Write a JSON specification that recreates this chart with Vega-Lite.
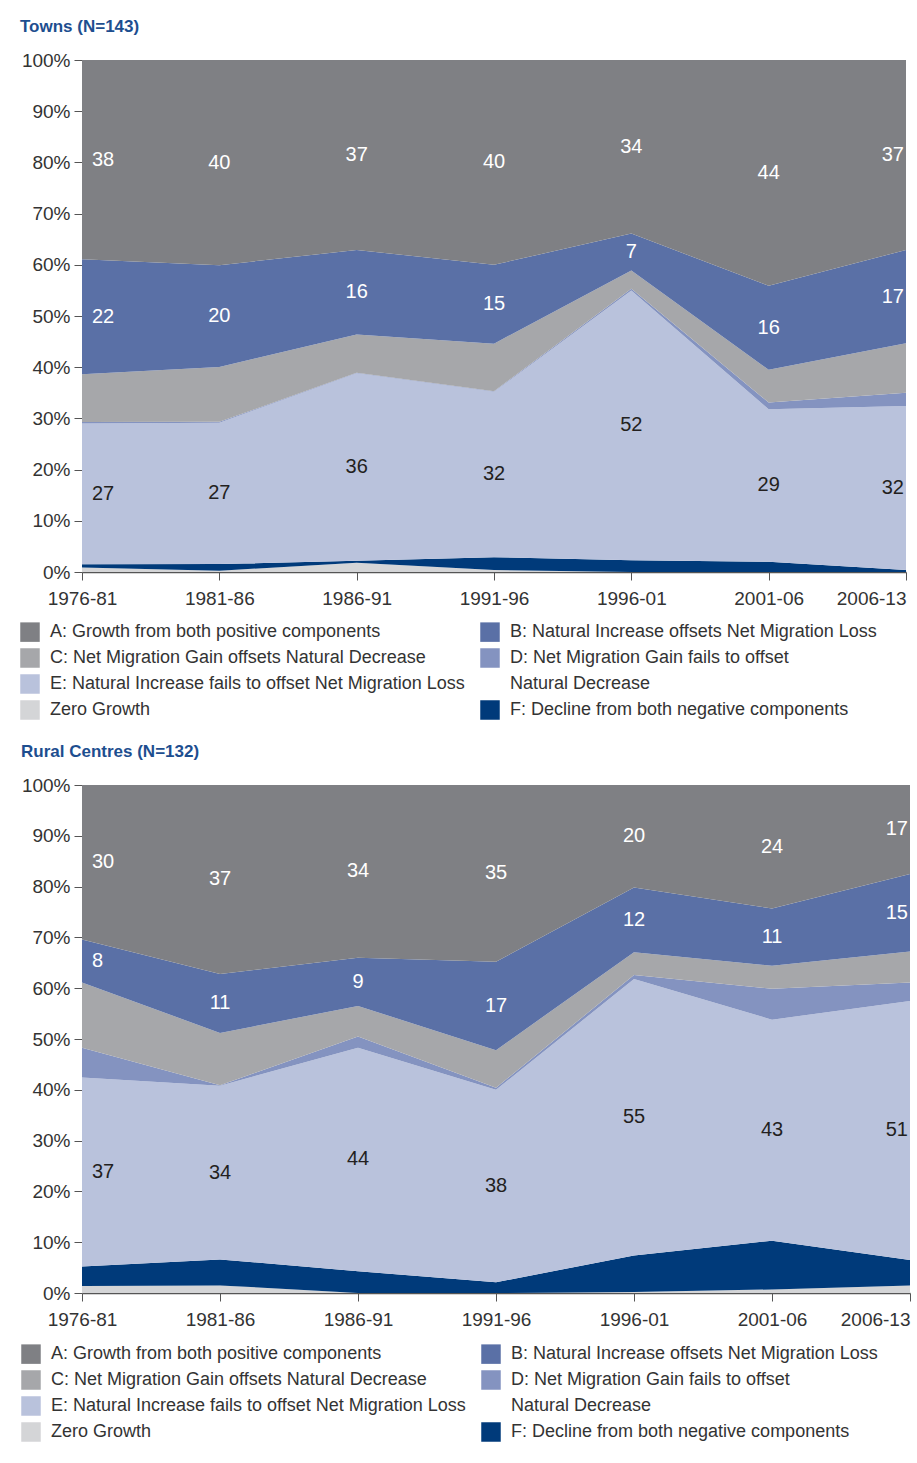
{
  "$schema": "https://vega.github.io/schema/vega-lite/v6.json",
  "background": "white",
  "padding": {"left": 20, "top": 18, "right": 4, "bottom": 4},
  "datasets": {
    "towns": [
      {"period": "1976-81", "class": "Z", "value": 0.9, "label": null},
      {"period": "1976-81", "class": "F", "value": 0.6, "label": null},
      {"period": "1976-81", "class": "E", "value": 27.5, "label": 27},
      {"period": "1976-81", "class": "D", "value": 0.3, "label": null},
      {"period": "1976-81", "class": "C", "value": 9.3, "label": null},
      {"period": "1976-81", "class": "B", "value": 22.5, "label": 22},
      {"period": "1976-81", "class": "A", "value": 38.9, "label": 38},
      {"period": "1981-86", "class": "Z", "value": 0.25, "label": null},
      {"period": "1981-86", "class": "F", "value": 1.3, "label": null},
      {"period": "1981-86", "class": "E", "value": 27.6, "label": 27},
      {"period": "1981-86", "class": "D", "value": 0.2, "label": null},
      {"period": "1981-86", "class": "C", "value": 10.7, "label": null},
      {"period": "1981-86", "class": "B", "value": 19.9, "label": 20},
      {"period": "1981-86", "class": "A", "value": 40.1, "label": 40},
      {"period": "1986-91", "class": "Z", "value": 1.8, "label": null},
      {"period": "1986-91", "class": "F", "value": 0.4, "label": null},
      {"period": "1986-91", "class": "E", "value": 36.6, "label": 36},
      {"period": "1986-91", "class": "D", "value": 0.1, "label": null},
      {"period": "1986-91", "class": "C", "value": 7.5, "label": null},
      {"period": "1986-91", "class": "B", "value": 16.5, "label": 16},
      {"period": "1986-91", "class": "A", "value": 37.1, "label": 37},
      {"period": "1991-96", "class": "Z", "value": 0.4, "label": null},
      {"period": "1991-96", "class": "F", "value": 2.5, "label": null},
      {"period": "1991-96", "class": "E", "value": 32.3, "label": 32},
      {"period": "1991-96", "class": "D", "value": 0.1, "label": null},
      {"period": "1991-96", "class": "C", "value": 9.3, "label": null},
      {"period": "1991-96", "class": "B", "value": 15.4, "label": 15},
      {"period": "1991-96", "class": "A", "value": 40.0, "label": 40},
      {"period": "1996-01", "class": "Z", "value": 0, "label": null},
      {"period": "1996-01", "class": "F", "value": 2.3, "label": null},
      {"period": "1996-01", "class": "E", "value": 52.7, "label": 52},
      {"period": "1996-01", "class": "D", "value": 0.3, "label": null},
      {"period": "1996-01", "class": "C", "value": 3.6, "label": null},
      {"period": "1996-01", "class": "B", "value": 7.2, "label": 7},
      {"period": "1996-01", "class": "A", "value": 33.9, "label": 34},
      {"period": "2001-06", "class": "Z", "value": 0, "label": null},
      {"period": "2001-06", "class": "F", "value": 2.0, "label": null},
      {"period": "2001-06", "class": "E", "value": 29.8, "label": 29},
      {"period": "2001-06", "class": "D", "value": 1.3, "label": null},
      {"period": "2001-06", "class": "C", "value": 6.4, "label": null},
      {"period": "2001-06", "class": "B", "value": 16.4, "label": 16},
      {"period": "2001-06", "class": "A", "value": 44.1, "label": 44},
      {"period": "2006-13", "class": "Z", "value": 0, "label": null},
      {"period": "2006-13", "class": "F", "value": 0.4, "label": null},
      {"period": "2006-13", "class": "E", "value": 32.0, "label": 32},
      {"period": "2006-13", "class": "D", "value": 2.6, "label": null},
      {"period": "2006-13", "class": "C", "value": 9.7, "label": null},
      {"period": "2006-13", "class": "B", "value": 18.2, "label": 17},
      {"period": "2006-13", "class": "A", "value": 37.1, "label": 37}
    ],
    "rural": [
      {"period": "1976-81", "class": "Z", "value": 1.4, "label": null},
      {"period": "1976-81", "class": "F", "value": 3.8, "label": null},
      {"period": "1976-81", "class": "E", "value": 37.2, "label": 37},
      {"period": "1976-81", "class": "D", "value": 5.9, "label": null},
      {"period": "1976-81", "class": "C", "value": 12.8, "label": null},
      {"period": "1976-81", "class": "B", "value": 8.5, "label": 8},
      {"period": "1976-81", "class": "A", "value": 30.4, "label": 30},
      {"period": "1981-86", "class": "Z", "value": 1.5, "label": null},
      {"period": "1981-86", "class": "F", "value": 5.1, "label": null},
      {"period": "1981-86", "class": "E", "value": 34.2, "label": 34},
      {"period": "1981-86", "class": "D", "value": 0.1, "label": null},
      {"period": "1981-86", "class": "C", "value": 10.3, "label": null},
      {"period": "1981-86", "class": "B", "value": 11.6, "label": 11},
      {"period": "1981-86", "class": "A", "value": 37.2, "label": 37},
      {"period": "1986-91", "class": "Z", "value": 0, "label": null},
      {"period": "1986-91", "class": "F", "value": 4.3, "label": null},
      {"period": "1986-91", "class": "E", "value": 44.0, "label": 44},
      {"period": "1986-91", "class": "D", "value": 2.2, "label": null},
      {"period": "1986-91", "class": "C", "value": 6.0, "label": null},
      {"period": "1986-91", "class": "B", "value": 9.5, "label": 9},
      {"period": "1986-91", "class": "A", "value": 34.0, "label": 34},
      {"period": "1991-96", "class": "Z", "value": 0, "label": null},
      {"period": "1991-96", "class": "F", "value": 2.1, "label": null},
      {"period": "1991-96", "class": "E", "value": 37.9, "label": 38},
      {"period": "1991-96", "class": "D", "value": 0.4, "label": null},
      {"period": "1991-96", "class": "C", "value": 7.4, "label": null},
      {"period": "1991-96", "class": "B", "value": 17.4, "label": 17},
      {"period": "1991-96", "class": "A", "value": 34.8, "label": 35},
      {"period": "1996-01", "class": "Z", "value": 0.2, "label": null},
      {"period": "1996-01", "class": "F", "value": 7.2, "label": null},
      {"period": "1996-01", "class": "E", "value": 54.4, "label": 55},
      {"period": "1996-01", "class": "D", "value": 0.8, "label": null},
      {"period": "1996-01", "class": "C", "value": 4.5, "label": null},
      {"period": "1996-01", "class": "B", "value": 12.7, "label": 12},
      {"period": "1996-01", "class": "A", "value": 20.2, "label": 20},
      {"period": "2001-06", "class": "Z", "value": 0.7, "label": null},
      {"period": "2001-06", "class": "F", "value": 9.6, "label": null},
      {"period": "2001-06", "class": "E", "value": 43.5, "label": 43},
      {"period": "2001-06", "class": "D", "value": 6.1, "label": null},
      {"period": "2001-06", "class": "C", "value": 4.5, "label": null},
      {"period": "2001-06", "class": "B", "value": 11.3, "label": 11},
      {"period": "2001-06", "class": "A", "value": 24.3, "label": 24},
      {"period": "2006-13", "class": "Z", "value": 1.5, "label": null},
      {"period": "2006-13", "class": "F", "value": 5.0, "label": null},
      {"period": "2006-13", "class": "E", "value": 51.0, "label": 51},
      {"period": "2006-13", "class": "D", "value": 3.6, "label": null},
      {"period": "2006-13", "class": "C", "value": 6.1, "label": null},
      {"period": "2006-13", "class": "B", "value": 15.3, "label": 15},
      {"period": "2006-13", "class": "A", "value": 17.5, "label": 17}
    ]
  },
  "config": {
    "font": "Liberation Sans",
    "view": {"stroke": null},
    "axis": {"labelFont": "Liberation Sans", "labelFontSize": 19, "labelColor": "#333333", "tickColor": "#555555", "domainColor": "#555555", "tickSize": 8, "grid": false, "title": null},
    "legend": {"labelFont": "Liberation Sans", "labelFontSize": 18, "labelColor": "#333333", "padding": 0}
  },
  "resolve": {"scale": {"color": "independent"}, "legend": {"color": "independent"}},
  "spacing": 23,
  "vconcat": [
    {
      "title": {"text": "Towns (N=143)", "anchor": "start", "frame": "bounds", "fontSize": 17, "font": "Liberation Sans", "fontWeight": "bold", "color": "#1D4E8F", "offset": 15},
      "width": 824,
      "height": 512,
      "data": {"name": "towns"},
      "transform": [
        {"stack": "value", "groupby": ["period"], "sort": [{"field": "class", "order": "descending"}], "offset": "normalize", "as": ["v0", "v1"]}
      ],
      "layer": [
        {
          "mark": {"type": "area", "opacity": 1},
          "encoding": {
            "x": {"field": "period", "type": "ordinal", "sort": ["1976-81", "1981-86", "1986-91", "1991-96", "1996-01", "2001-06", "2006-13"], "scale": {"type": "point", "padding": 0},
              "axis": {"labelAngle": 0, "labelPadding": 9, "domainWidth": 1.5, "labelAlign": {"condition": {"test": "datum.value === '2006-13'", "value": "right"}, "value": "center"}}},
            "y": {"field": "v0", "type": "quantitative", "scale": {"domain": [0, 1], "nice": false},
              "axis": {"domain": false, "values": [0, 0.1, 0.2, 0.3, 0.4, 0.5, 0.6, 0.7, 0.8, 0.9, 1], "format": ".0%", "labelPadding": 4}},
            "y2": {"field": "v1"},
            "color": {"field": "class", "type": "nominal",
              "scale": {"domain": ["A", "C", "E", "Z", "B", "D", "N", "F"], "range": ["#7f8084", "#a6a7aa", "#b9c2dc", "#d4d5d7", "#5a70a6", "#8493c0", "transparent", "#003a7a"]},
              "legend": {"orient": "none", "legendX": -62, "legendY": 562, "columns": 2, "columnPadding": 15, "rowPadding": 6, "title": null, "symbolType": "square", "symbolSize": 380, "symbolStrokeWidth": 0, "labelOffset": 10, "labelLimit": 500,
                "labelExpr": "datum.value === 'A' ? 'A: Growth from both positive components' : datum.value === 'B' ? 'B: Natural Increase offsets Net Migration Loss' : datum.value === 'C' ? 'C: Net Migration Gain offsets Natural Decrease' : datum.value === 'D' ? 'D: Net Migration Gain fails to offset' : datum.value === 'E' ? 'E: Natural Increase fails to offset Net Migration Loss' : datum.value === 'N' ? 'Natural Decrease' : datum.value === 'Z' ? 'Zero Growth' : 'F: Decline from both negative components'"}}
          }
        },
        {
          "transform": [{"filter": "datum.label != null"}, {"fold": ["v0", "v1"], "as": ["edge", "pos"]}],
          "mark": {"type": "text", "fontSize": 20, "font": "Liberation Sans", "baseline": "middle",
            "align": {"expr": "datum.period === '1976-81' ? 'left' : datum.period === '2006-13' ? 'right' : 'center'"},
            "dx": {"expr": "datum.period === '1976-81' ? 10 : datum.period === '2006-13' ? -2 : 0"}},
          "encoding": {
            "x": {"field": "period", "type": "ordinal", "sort": ["1976-81", "1981-86", "1986-91", "1991-96", "1996-01", "2001-06", "2006-13"]},
            "y": {"aggregate": "mean", "field": "pos", "type": "quantitative"},
            "detail": {"field": "class", "type": "nominal"},
            "text": {"field": "label", "type": "quantitative"},
            "color": {"condition": {"test": "datum.class === 'E'", "value": "#231f20"}, "value": "white"}
          }
        }
      ]
    },
    {
      "title": {"text": "Rural Centres (N=132)", "anchor": "start", "frame": "bounds", "fontSize": 17, "font": "Liberation Sans", "fontWeight": "bold", "color": "#1D4E8F", "offset": 15},
      "width": 828,
      "height": 508,
      "data": {"name": "rural"},
      "transform": [
        {"stack": "value", "groupby": ["period"], "sort": [{"field": "class", "order": "descending"}], "offset": "normalize", "as": ["v0", "v1"]}
      ],
      "layer": [
        {
          "mark": {"type": "area", "opacity": 1},
          "encoding": {
            "x": {"field": "period", "type": "ordinal", "sort": ["1976-81", "1981-86", "1986-91", "1991-96", "1996-01", "2001-06", "2006-13"], "scale": {"type": "point", "padding": 0},
              "axis": {"labelAngle": 0, "labelPadding": 9, "domainWidth": 1.5, "labelAlign": {"condition": {"test": "datum.value === '2006-13'", "value": "right"}, "value": "center"}}},
            "y": {"field": "v0", "type": "quantitative", "scale": {"domain": [0, 1], "nice": false},
              "axis": {"domain": false, "values": [0, 0.1, 0.2, 0.3, 0.4, 0.5, 0.6, 0.7, 0.8, 0.9, 1], "format": ".0%", "labelPadding": 4}},
            "y2": {"field": "v1"},
            "color": {"field": "class", "type": "nominal",
              "scale": {"domain": ["A", "C", "E", "Z", "B", "D", "N", "F"], "range": ["#7f8084", "#a6a7aa", "#b9c2dc", "#d4d5d7", "#5a70a6", "#8493c0", "transparent", "#003a7a"]},
              "legend": {"orient": "none", "legendX": -61, "legendY": 559, "columns": 2, "columnPadding": 15, "rowPadding": 6, "title": null, "symbolType": "square", "symbolSize": 380, "symbolStrokeWidth": 0, "labelOffset": 10, "labelLimit": 500,
                "labelExpr": "datum.value === 'A' ? 'A: Growth from both positive components' : datum.value === 'B' ? 'B: Natural Increase offsets Net Migration Loss' : datum.value === 'C' ? 'C: Net Migration Gain offsets Natural Decrease' : datum.value === 'D' ? 'D: Net Migration Gain fails to offset' : datum.value === 'E' ? 'E: Natural Increase fails to offset Net Migration Loss' : datum.value === 'N' ? 'Natural Decrease' : datum.value === 'Z' ? 'Zero Growth' : 'F: Decline from both negative components'"}}
          }
        },
        {
          "transform": [{"filter": "datum.label != null"}, {"fold": ["v0", "v1"], "as": ["edge", "pos"]}],
          "mark": {"type": "text", "fontSize": 20, "font": "Liberation Sans", "baseline": "middle",
            "align": {"expr": "datum.period === '1976-81' ? 'left' : datum.period === '2006-13' ? 'right' : 'center'"},
            "dx": {"expr": "datum.period === '1976-81' ? 10 : datum.period === '2006-13' ? -2 : 0"}},
          "encoding": {
            "x": {"field": "period", "type": "ordinal", "sort": ["1976-81", "1981-86", "1986-91", "1991-96", "1996-01", "2001-06", "2006-13"]},
            "y": {"aggregate": "mean", "field": "pos", "type": "quantitative"},
            "detail": {"field": "class", "type": "nominal"},
            "text": {"field": "label", "type": "quantitative"},
            "color": {"condition": {"test": "datum.class === 'E'", "value": "#231f20"}, "value": "white"}
          }
        }
      ]
    }
  ]
}
